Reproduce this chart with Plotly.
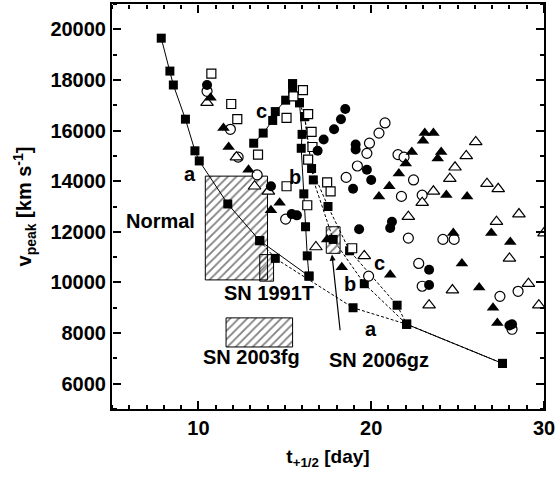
import plotly.graph_objects as go

# model curves (filled squares)
a_solid_t = [7.85, 8.35, 8.55, 9.25, 9.8, 10.05, 11.7, 13.55, 16.4]
a_solid_v = [19650, 18350, 17800, 16450, 15200, 14800, 13100, 11650, 10250]
a_dash_t = [13.55, 14.45, 18.95, 22.05, 27.6]
a_dash_v = [11650, 10950, 9000, 8350, 6800]

c_rise_t = [13.2, 13.75, 14.3, 14.45, 15.05, 15.45, 15.45]
c_rise_v = [15500, 15900, 16400, 16750, 17200, 17600, 17850]
c_dash_t = [15.85, 16.15, 16.55, 17.5, 18.75, 21.5, 22.05, 27.6]
c_dash_v = [17100, 16550, 14500, 13000, 11250, 9100, 8350, 6800]

b_solid_t = [15.45, 15.85, 16.0, 15.95, 16.1, 16.2, 16.3, 16.4]
b_solid_v = [17850, 17100, 15850, 15300, 13500, 12200, 11050, 10250]
b_dash_t = [16.15, 16.65, 17.8, 19.6, 22.05, 27.6]
b_dash_v = [16550, 14050, 11700, 9950, 8350, 6800]

# observed SNe
osq_t = [10.75, 11.9, 12.25, 13.45, 15.1, 15.5, 16.05, 16.35, 16.55, 16.6, 16.35, 17.45, 17.65, 15.1, 16.3, 18.9]
osq_v = [18250, 17050, 16450, 15050, 16500, 17350, 17600, 16650, 15950, 15350, 14850, 13950, 13600, 13800, 13050, 11350]

fcirc_t = [10.5, 14.2, 18.5, 18.25, 17.85, 17.25, 16.9, 19.1, 19.1, 19.75, 20.0, 18.95, 15.4, 15.7, 19.3, 21.2, 21.1, 23.35, 23.35, 28.0, 28.15]
fcirc_v = [17800, 13800, 16850, 16450, 16050, 15650, 15200, 15450, 15250, 14450, 14050, 13700, 12700, 12650, 12100, 12400, 12150, 10500, 9900, 8300, 8350]

ocirc_t = [10.5, 11.85, 12.3, 13.4, 15.05, 20.8, 20.45, 19.9, 19.75, 19.2, 21.55, 21.9, 22.45, 18.55, 21.75, 22.95, 22.15, 24.15, 24.8, 22.75, 22.95, 27.45, 28.5, 28.15, 19.85]
ocirc_v = [17550, 16050, 14950, 14250, 12500, 16300, 15900, 15500, 15100, 14600, 15050, 14950, 14050, 14150, 13400, 13450, 11750, 11700, 11700, 10750, 9850, 9450, 9650, 8150, 10250]

ftri_t = [10.7, 11.45, 11.75, 12.9, 14.2, 14.7, 23.1, 23.6, 23.0, 22.35, 24.05, 23.85, 22.0, 21.6, 21.05, 20.45, 24.35, 25.55, 24.75, 26.95, 28.05, 25.25, 26.25, 27.05, 27.3, 21.1, 18.3, 17.45]
ftri_v = [17300, 16100, 15350, 14450, 12850, 13150, 15900, 15900, 15600, 15150, 15150, 14900, 14700, 14300, 13800, 13400, 13450, 13400, 11950, 11950, 11600, 10750, 9800, 9000, 8400, 10300, 10600, 11700]

otri_t = [10.5, 12.2, 13.25, 14.05, 26.05, 25.5, 24.85, 24.55, 23.6, 26.7, 27.35, 22.95, 22.15, 27.25, 28.55, 28.0, 24.7, 23.35, 29.1, 29.7, 30.0, 19.6, 16.8]
otri_v = [17100, 14950, 13800, 13600, 15550, 15000, 14550, 14100, 13600, 13900, 13700, 13150, 12600, 12400, 12700, 10950, 9700, 9100, 9950, 9100, 11950, 11050, 11400]

# hatched regions: [t_min, t_max], [v_min, v_max]
normal_t, normal_v = [10.4, 14.0], [10100, 14200]
sn1991t_t, sn1991t_v = [13.55, 14.35], [10050, 11100]
sn2003fg_t, sn2003fg_v = [11.6, 15.45], [7450, 8600]
sn2006gz_t, sn2006gz_v = [17.4, 18.2], [11150, 12200]

X_RANGE = [5, 30]
Y_RANGE = [5000, 21000]

fig = go.Figure()


def box(t, v, size):
    return go.Scatter(
        x=[t[0], t[1], t[1], t[0], t[0]], y=[v[0], v[0], v[1], v[1], v[0]],
        mode="lines", fill="toself", fillcolor="rgba(0,0,0,0)",
        fillpattern=dict(shape="/", fgcolor="black", bgcolor="rgba(0,0,0,0)",
                         size=size, solidity=0.3),
        line=dict(color="black", width=1), hoverinfo="skip", showlegend=False)


for t, v, s in [(normal_t, normal_v, 6), (sn1991t_t, sn1991t_v, 4),
                (sn2003fg_t, sn2003fg_v, 6), (sn2006gz_t, sn2006gz_v, 6)]:
    fig.add_trace(box(t, v, s))

sq = dict(symbol="square", size=9, color="black")
for t, v, dash in [(a_solid_t, a_solid_v, "solid"), (a_dash_t, a_dash_v, "dash"),
                   (c_rise_t, c_rise_v, "solid"), (c_dash_t, c_dash_v, "dash"),
                   (b_solid_t, b_solid_v, "solid"), (b_dash_t, b_dash_v, "dash")]:
    fig.add_trace(go.Scatter(x=t, y=v, mode="lines+markers", marker=sq,
                             line=dict(color="black", width=1, dash="3px,2px" if dash == "dash" else "solid"),
                             showlegend=False))

op = dict(color="white", line=dict(color="black", width=1.2))
fig.add_trace(go.Scatter(x=osq_t, y=osq_v, mode="markers", showlegend=False,
                         marker=dict(symbol="square", size=9, **op)))
fig.add_trace(go.Scatter(x=ocirc_t, y=ocirc_v, mode="markers", showlegend=False,
                         marker=dict(symbol="circle", size=10, **op)))
fig.add_trace(go.Scatter(x=otri_t, y=otri_v, mode="markers", showlegend=False,
                         marker=dict(symbol="triangle-up", size=11, **op)))
fig.add_trace(go.Scatter(x=fcirc_t, y=fcirc_v, mode="markers", showlegend=False,
                         marker=dict(symbol="circle", size=10, color="black")))
fig.add_trace(go.Scatter(x=ftri_t, y=ftri_v, mode="markers", showlegend=False,
                         marker=dict(symbol="triangle-up", size=11, color="black")))

# empty traces so the tick-only overlay axes get drawn
for xa, ya in [("x2", "y"), ("x3", "y"), ("x", "y2"), ("x", "y3")]:
    fig.add_trace(go.Scatter(x=[], y=[], xaxis=xa, yaxis=ya, showlegend=False, hoverinfo="skip"))

labels = [("Normal", 7.8, 12420), ("SN 1991T", 14.08, 9600), ("SN 2003fg", 13.06, 7050),
          ("SN 2006gz", 20.45, 6950), ("a", 9.54, 14300), ("a", 20.0, 8180),
          ("b", 15.61, 14180), ("b", 18.79, 9920), ("c", 13.64, 16780), ("c", 20.46, 10780)]
for text, x, y in labels:
    fig.add_annotation(x=x, y=y, text=text, showarrow=False, xanchor="center", yanchor="middle")

fig.add_annotation(x=17.73, y=11100, ax=18.21, ay=8050, axref="x", ayref="y", text="",
                   showarrow=True, arrowhead=2, arrowsize=1, arrowwidth=1.2, arrowcolor="black")

# ticks pointing into the plot: "outside" ticks on axes flipped to the opposite side
tick_x = dict(range=X_RANGE, tickmode="linear", tick0=0, dtick=10, ticks="outside", ticklen=8,
              tickwidth=2, tickcolor="black", showticklabels=False, showgrid=False,
              zeroline=False, showline=False, overlaying="x", anchor="free",
              minor=dict(ticks="outside", ticklen=4, tickwidth=2, tickcolor="black", dtick=1, tick0=0))
tick_y = dict(range=Y_RANGE, tickmode="linear", tick0=0, dtick=2000, ticks="outside", ticklen=8,
              tickwidth=2, tickcolor="black", showticklabels=False, showgrid=False,
              zeroline=False, showline=False, overlaying="y", anchor="free",
              minor=dict(ticks="outside", ticklen=4, tickwidth=2, tickcolor="black", dtick=1000, tick0=0))

title_font = dict(family="Liberation Sans, Arial", size=19, color="black")

fig.update_layout(
    width=556, height=487, margin=dict(l=112, r=12, t=4, b=78),
    plot_bgcolor="white", paper_bgcolor="white",
    font=dict(family="Liberation Sans, Arial", size=20, color="black", weight="bold"),
    xaxis=dict(range=X_RANGE, tickmode="linear", tick0=0, dtick=10, ticks="",
               showline=True, linecolor="black", linewidth=2, mirror=True,
               showgrid=False, zeroline=False, automargin=False,
               title=dict(text="<b>t<sub>+1/2</sub> [day]</b>", standoff=12, font=title_font)),
    yaxis=dict(range=Y_RANGE, tickmode="linear", tick0=0, dtick=2000, tickformat="d", ticks="",
               showline=True, linecolor="black", linewidth=2, mirror=True,
               showgrid=False, zeroline=False, automargin=False,
               title=dict(text="<b>v<sub>peak</sub> [km s<sup>-1</sup>]</b>", standoff=13,
                          font=dict(title_font, size=20))),
    xaxis2=dict(side="top", position=0, **tick_x),
    xaxis3=dict(side="bottom", position=1, **tick_x),
    yaxis2=dict(side="right", position=0, **tick_y),
    yaxis3=dict(side="left", position=1, **tick_y),
)

fig.write_html("out.html", config={"displayModeBar": False},
               post_script="document.body.style.margin='0';")
